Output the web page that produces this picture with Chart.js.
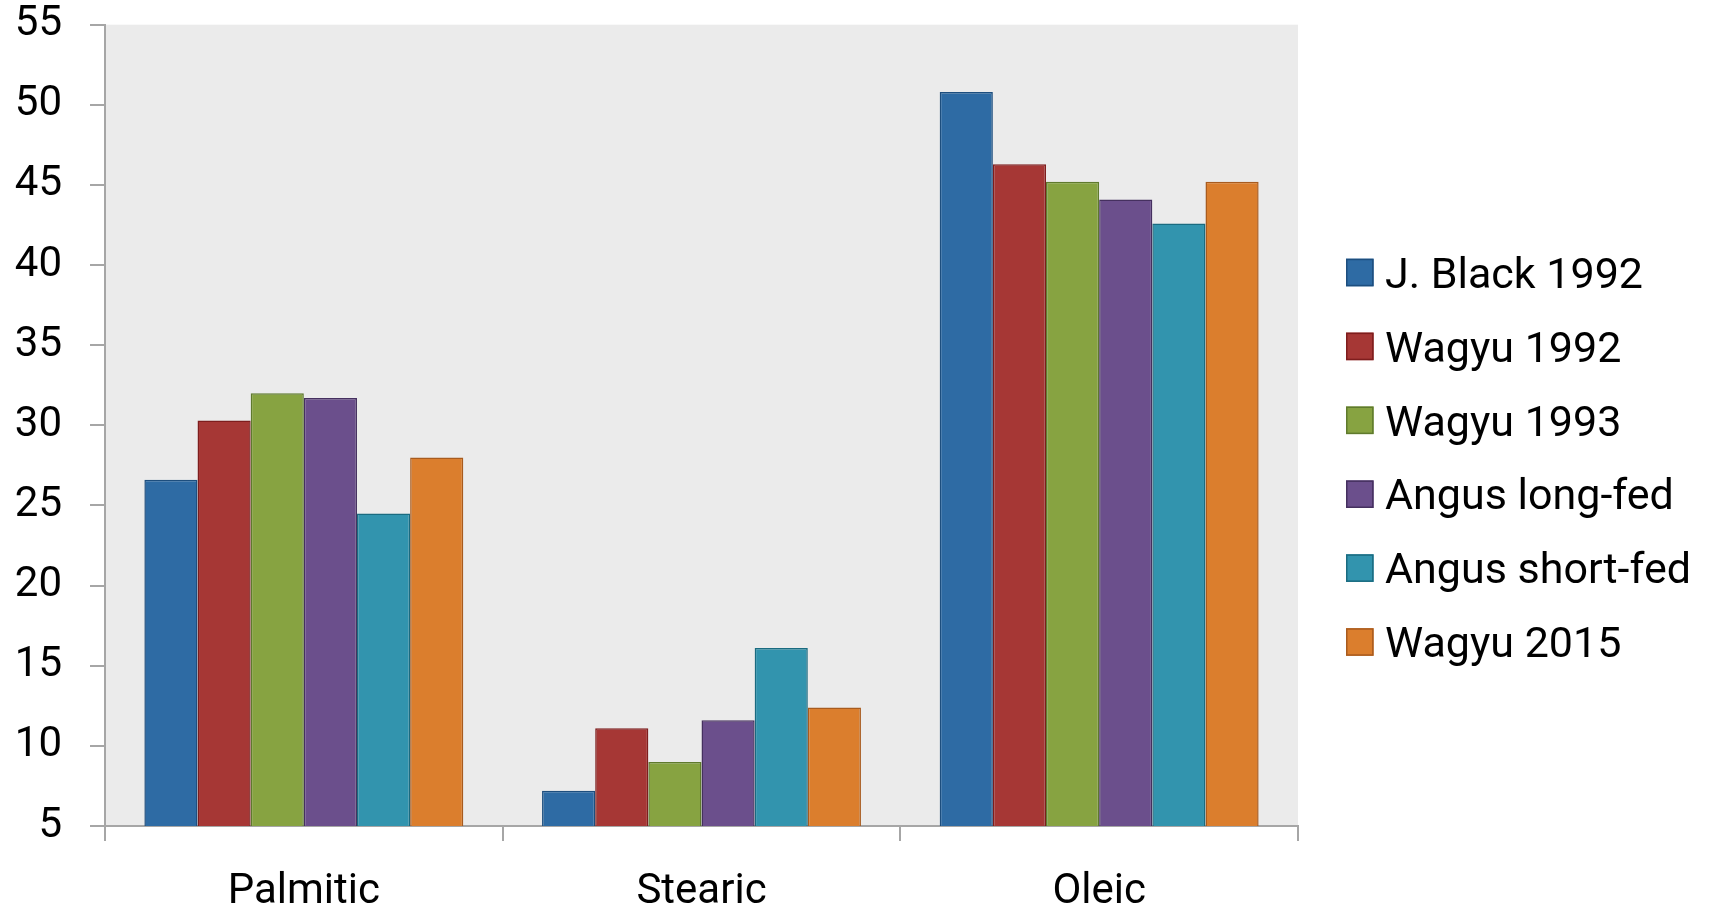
<!DOCTYPE html>
<html>
<head>
<meta charset="utf-8">
<title>Fatty acid composition</title>
<script src="https://cdn.jsdelivr.net/npm/chart.js@4.4.1/dist/chart.umd.min.js"></script>
<style>
  html, body { margin: 0; padding: 0; background: #ffffff; overflow: hidden; }
  #wrap { width: 1711px; height: 906px; position: relative; }
  canvas { display: block; }
</style>
</head>
<body>
<div id="wrap"><canvas id="chart" width="1711" height="906"></canvas></div>
<script>
// Fatty acid share (%) by source
const categories = ['Palmitic', 'Stearic', 'Oleic'];
const seriesNames = ['J. Black 1992', 'Wagyu 1992', 'Wagyu 1993', 'Angus long-fed', 'Angus short-fed', 'Wagyu 2015'];
const jBlack1992    = [26.6,  7.2, 50.8];
const wagyu1992     = [30.3, 11.1, 46.3];
const wagyu1993     = [32.0,  9.0, 45.2];
const angusLongFed  = [31.7, 11.6, 44.1];
const angusShortFed = [24.5, 16.1, 42.6];
const wagyu2015     = [28.0, 12.4, 45.2];
const yMin = 5, yMax = 55, yStep = 5;

const seriesValues = [jBlack1992, wagyu1992, wagyu1993, angusLongFed, angusShortFed, wagyu2015];
const fills   = ['#2e6ba4', '#a63735', '#87a341', '#6b4f8c', '#3294ae', '#db7e2d'];
const strokes = ['#1d4e7e', '#7e1d1d', '#5f7a2d', '#45305f', '#1a6b80', '#a85b1e'];

const FONT = 'Roboto';
const AXIS_GREY = '#a6a6a6';

// grey panel behind the bars
const plotBackground = {
  id: 'plotBackground',
  beforeDraw(chart, args, opts) {
    const { ctx, chartArea: a } = chart;
    ctx.save();
    ctx.fillStyle = opts.color;
    ctx.fillRect(a.left, a.top, a.right - a.left, a.bottom - a.top);
    ctx.restore();
  }
};

// legend column on the right: square key + series name
const sideLegend = {
  id: 'sideLegend',
  afterDraw(chart, args, opts) {
    const { ctx } = chart;
    ctx.save();
    ctx.font = opts.fontSize + 'px ' + FONT;
    ctx.textAlign = 'left';
    ctx.textBaseline = 'alphabetic';
    chart.data.datasets.forEach((ds, i) => {
      const cy = opts.top + i * opts.step;
      const s = opts.box;
      ctx.fillStyle = ds.backgroundColor;
      ctx.fillRect(opts.left, cy - s / 2, s, s);
      ctx.lineWidth = 1.5;
      ctx.strokeStyle = ds.borderColor;
      ctx.strokeRect(opts.left + 0.75, cy - s / 2 + 0.75, s - 1.5, s - 1.5);
      ctx.fillStyle = '#000000';
      ctx.fillText(ds.label, opts.textLeft, cy + opts.fontSize * 0.355);
    });
    ctx.restore();
  }
};

new Chart(document.getElementById('chart'), {
  type: 'bar',
  data: {
    labels: categories,
    datasets: seriesNames.map((name, i) => ({
      label: name,
      data: seriesValues[i],
      backgroundColor: fills[i],
      borderColor: strokes[i],
      borderWidth: 1.5,
      categoryPercentage: 0.802,
      barPercentage: 1.0
    }))
  },
  options: {
    responsive: false,
    animation: false,
    devicePixelRatio: 1,
    layout: { padding: { left: 0, right: 413, top: 0, bottom: 0 } },
    plugins: {
      legend: { display: false },
      tooltip: { enabled: false },
      plotBackground: { color: '#ebebeb' },
      sideLegend: { left: 1346, top: 272.5, step: 73.9, box: 27.6, textLeft: 1385, fontSize: 43 }
    },
    scales: {
      x: {
        ticks: { color: '#000000', font: { family: FONT, size: 42, lineHeight: 1 }, padding: 30 },
        grid: { drawOnChartArea: false, drawTicks: true, tickLength: 15, color: AXIS_GREY, lineWidth: 2, offset: true },
        border: { display: true, color: AXIS_GREY, width: 2 },
        afterFit(scale) { scale.height = 80; }
      },
      y: {
        min: yMin,
        max: yMax,
        ticks: { stepSize: yStep, color: '#000000', font: { family: FONT, size: 42, lineHeight: 1.18 }, padding: 28 },
        grid: { drawOnChartArea: false, drawTicks: true, tickLength: 15, color: AXIS_GREY, lineWidth: 2 },
        border: { display: true, color: AXIS_GREY, width: 2 },
        afterFit(scale) {
          scale.width = 105;
          scale.paddingTop = 24.7;
          scale.paddingBottom = 0;
        }
      }
    }
  },
  plugins: [plotBackground, sideLegend]
});
</script>
</body>
</html>
